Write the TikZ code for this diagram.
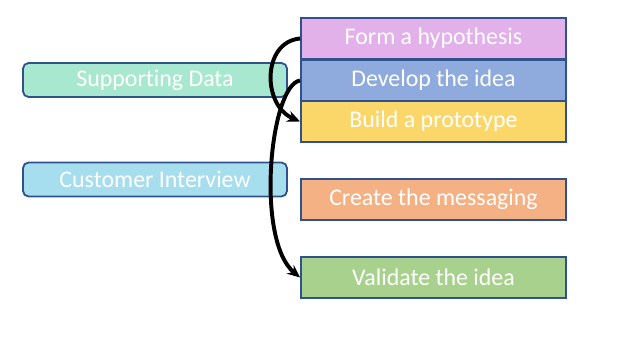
\documentclass[tikz,border=0pt]{standalone}
\usepackage{fontspec}
\setmainfont{Carlito}[Ligatures=NoCommon]
\usetikzlibrary{arrows.meta,positioning}

\definecolor{hypcol}{HTML}{E2B1E9}
\definecolor{devcol}{HTML}{8FAADC}
\definecolor{protocol}{HTML}{FAD768}
\definecolor{msgcol}{HTML}{F4B183}
\definecolor{valcol}{HTML}{A9D18E}
\definecolor{datacol}{HTML}{A8E8D0}
\definecolor{intcol}{HTML}{A6DEEE}
\definecolor{edgecol}{HTML}{2F528F}

\begin{document}
\begin{tikzpicture}[
  x=0.025cm, y=-0.025cm,
  flow/.style={-{Stealth[length=3.2mm,width=2.8mm]}, line width=2.8pt},
  stage/.style={draw=edgecol, line width=1.3pt, rectangle, minimum width=6.625cm, minimum height=1.025cm, align=center, text=white},
  source/.style={draw=edgecol, line width=1.3pt, rectangle, rounded corners=4pt, minimum width=6.6cm, minimum height=0.85cm, align=center, text=white},
  every node/.style={font=\fontsize{17}{20}\selectfont}
]
  \useasboundingbox (0,0) rectangle (627,341);

  % --- ETAPAS (columna derecha) ---
  \node[stage, fill=hypcol] (hyp) at (433.5, 38.5) {Form a hypothesis};
  \node[stage, fill=devcol] (dev) at (433.5, 80.5) {Develop the idea};
  \node[stage, fill=protocol] (proto) at (433.5, 121.5) {Build a prototype};
  \node[stage, fill=msgcol] (msg) at (433.5, 199.5) {Create the messaging};
  \node[stage, fill=valcol] (val) at (433.5, 277.5) {Validate the idea};

  % --- FUENTES (columna izquierda) ---
  \node[source, fill=datacol] (data) at (155, 80) {Supporting Data};
  \node[source, fill=intcol] (interview) at (155, 179.5) {Customer Interview};

  % --- FLECHAS CURVAS ---
  % hipotesis -> prototipo
  \draw[flow] (hyp.west) .. controls (262,42) and (262,105) .. (proto.west);
  % idea -> validar
  \draw[flow] (dev.west) .. controls (270,85) and (255,240) .. (val.west);

\end{tikzpicture}
\end{document}
